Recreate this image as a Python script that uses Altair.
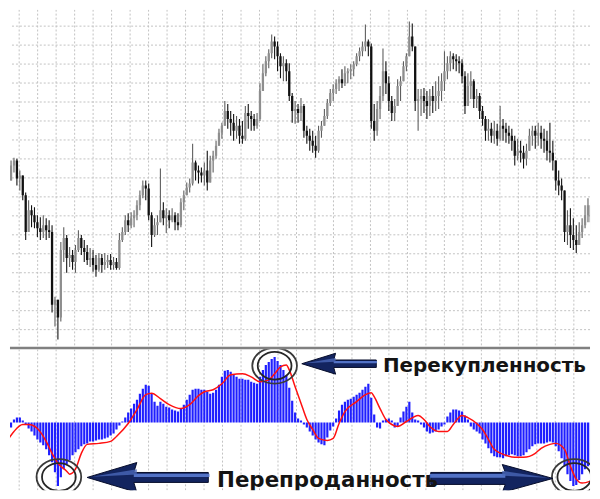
import altair as alt
import pandas as pd

# ---------------- price bars (arbitrary price units) ----------------
HIGH = [178,190,193,192,180,175,158,150,145,143,
        135,133,135,132,130,125,53,50,108,123,
        115,103,100,105,120,115,110,105,102,100,
        95,97,96,97,95,96,93,92,117,123,
        135,137,138,140,150,160,170,170,167,138,
        132,135,182,148,142,140,142,138,137,152,
        160,168,172,207,190,185,183,188,200,195,
        200,210,222,228,250,247,240,237,235,232,
        230,245,247,240,237,238,268,287,295,302,
        317,315,310,298,295,292,288,258,250,247,
        253,247,225,222,220,215,225,230,242,252,
        262,267,272,275,282,285,283,287,290,298,
        304,310,327,312,308,247,250,265,303,290,
        275,255,252,272,275,290,298,330,328,305,
        262,262,263,260,262,265,270,275,278,300,
        295,300,298,297,295,292,280,278,280,272,
        262,258,245,235,232,228,230,227,245,232,
        228,225,222,215,212,210,205,207,222,225,
        225,228,225,222,220,228,210,190,180,172,
        160,140,142,132,125,128,132,145,152,148]
LOW = [153,170,178,165,160,150,110,118,123,122,
       113,110,112,110,112,37,23,10,28,88,
       77,83,80,77,98,95,88,85,83,78,
       73,78,77,80,82,80,80,80,80,108,
       115,118,122,123,130,140,152,150,130,103,
       113,115,128,125,117,122,128,120,120,123,
       140,155,158,165,170,167,168,165,160,168,
       178,192,205,212,225,222,215,210,212,207,
       207,210,222,220,220,222,230,260,275,283,
       293,292,280,273,270,270,250,228,227,228,
       230,213,207,200,198,193,198,213,225,232,
       245,250,257,260,263,265,268,272,275,285,
       290,295,300,295,222,210,215,232,250,257,
       240,230,230,245,250,270,280,295,300,240,
       220,235,238,232,235,238,240,242,250,260,
       272,280,282,280,278,268,237,245,252,243,
       243,232,225,210,210,208,207,205,210,210,
       208,207,200,185,190,188,182,185,200,205,
       202,205,202,198,190,188,180,160,155,150,
       108,105,102,100,97,105,112,122,128,118]
CLOSE = [170,185,190,172,175,155,118,140,135,128,
         122,118,125,120,118,45,50,32,100,112,
         92,95,88,100,112,102,98,90,92,85,
         80,92,85,88,90,85,88,82,110,118,
         130,125,132,135,145,155,165,162,135,115,
         125,128,140,132,135,130,135,128,125,148,
         155,163,167,188,180,178,175,180,168,190,
         195,205,218,225,240,232,228,220,225,215,
         212,238,235,232,225,232,260,278,290,298,
         310,305,295,285,288,280,255,240,242,238,
         245,220,215,210,205,200,220,225,235,248,
         258,262,268,272,268,278,280,282,287,295,
         300,305,310,305,230,220,242,255,280,268,
         250,238,245,265,270,285,295,315,305,250,
         252,255,250,245,255,250,255,260,270,280,
         288,295,292,290,288,275,245,265,270,252,
         255,240,232,220,222,215,220,212,225,222,
         218,215,210,195,200,198,192,200,215,220,
         215,218,212,210,200,198,190,170,165,160,
         118,125,115,110,105,118,125,135,145,128]
FIRST_OPEN = 162

# ---------------- oscillator (histogram + signal line) ----------------
HIST = [-9,-5,3,5,5,2,-2,-6,-9,-13,
        -17,-20,-23,-27,-33,-40,-50,-64,-55,-47,
        -42,-38,-33,-30,-27,-24,-22,-21,-19,-19,
        -18,-17,-17,-16,-15,-13,-11,-7,-3,1,
        5,10,14,19,23,29,34,38,37,29,
        21,17,21,19,16,15,13,12,11,14,
        18,23,28,33,34,34,33,33,31,29,
        30,33,38,46,52,53,51,48,46,44,
        44,43,43,41,40,39,46,53,58,61,
        64,66,62,58,53,47,35,22,10,4,
        2,-2,-5,-9,-13,-17,-20,-22,-23,-15,
        -8,-4,4,12,18,21,23,24,26,28,
        30,33,36,39,25,8,-5,-6,2,3,
        4,2,-5,-4,5,11,16,21,10,3,
        2,-2,-5,-9,-11,-10,-9,-7,-4,-2,
        6,10,13,13,12,11,7,3,-4,-7,
        -9,-11,-17,-21,-26,-31,-34,-35,-35,-36,
        -34,-33,-32,-33,-34,-34,-33,-30,-27,-24,
        -22,-21,-21,-21,-20,-19,-20,-24,-29,-36,
        -44,-52,-59,-64,-63,-58,-52,-47,-44,-41]
SIG_BAR = [0,2,5,7,10,13,15,17,20,21,23,25,27,31,35,37,41,44,47,49,
           52,55,59,62,65,67,70,73,76,80,83,86,89,91,93,95,96,98,100,102,
           104,106,109,111,113,115,119,122,124,125,127,129,131,133,136,140,142,144,147,150,
           152,155,157,160,162,164,166,170,173,176,180,182,185,187,190,192,194,196,199]
SIG_VAL = [-17,-9,-2,-2,-6,-19,-31,-41,-49,-52,-47,-31,-22,-21,-19,-14,-1,13,28,29.5,
           24,18,14,18,27,31,33,39,48,49,46,41,43,49,56,58,53,36,19.5,3,
           -7,-16,-18,-16,-1,11,21,28,30,26,14,3,-2,-4,1,7,3,-4,-9,-9,
           -2,7,5,-1,-7,-17,-27,-33,-35,-35,-31,-26,-22,-21,-27,-44,-57,-61,-59]

# ---------------- grid ----------------
GRID_X = [3.77,10.08,16.39,22.71,29.02,35.33,41.65,47.96,54.27,60.59,66.90,73.21,
          79.53,85.84,92.15,98.47,104.78,111.09,117.41,123.72,130.03,136.35,142.66,
          148.97,155.29,161.60,167.91,174.23,180.54,186.85,193.17,199.48]
GRID_P = [344.5,325.4,306.3,287.2,268.1,249.0,229.9,210.8,191.7,172.6,153.5,
          134.4,115.3,96.2,77.1,58.0,38.9,19.8]

# ---------------- annotations ----------------
LABELS = ["Перекупленность", "Перепроданность"]
LABEL_I = [128.0, 71.33]
LABEL_V = [50.7, -65.3]
LABEL_SIZE = [20, 21.5]
RING_I = [17.33, 91.0, 193.33]
RING_V = [-54.8, 57.2, -54.8]
# arrows: centre bar, centre value, length px, head base (unit), head half, shaft half, direction
ARROWS = [
    (113.0, 59.2, 75, -0.093, 0.28, 0.10, "left"),
    (47.67, -55.3, 122, -0.18, 0.246, 0.082, "left"),
    (165.17, -56.3, 123, 0.171, 0.228, 0.098, "right"),
]

n = len(CLOSE)
opens = [FIRST_OPEN] + CLOSE[:-1]
bars = pd.DataFrame({
    "i": list(range(n)),
    "hi": [max(h, o, c) for h, o, c in zip(HIGH, opens, CLOSE)],
    "lo": [min(l, o, c) for l, o, c in zip(LOW, opens, CLOSE)],
    "op": opens,
    "cl": CLOSE,
    "dir": ["up" if c >= o else "down" for o, c in zip(opens, CLOSE)],
})
hist = pd.DataFrame({"i": list(range(n)), "v": HIST})
sig = pd.DataFrame({"i": SIG_BAR, "v": SIG_VAL})
gx = pd.DataFrame({"g": GRID_X})
gp = pd.DataFrame({"p": GRID_P})

W = 584
xs = alt.Scale(domain=[2.333, 197.0], nice=False, zero=False)
ys_top = alt.Scale(domain=[1, 342], nice=False, zero=False)
ys_bot = alt.Scale(domain=[-68.3, 73.7], nice=False, zero=False)
dash = dict(color="#c2c2c2", strokeDash=[2, 2], strokeWidth=1, clip=True)

# ---------------- top panel ----------------
top_h = alt.Chart(gp).mark_rule(**dash).encode(y=alt.Y("p:Q", scale=ys_top, axis=None))
top_v = alt.Chart(gx).mark_rule(**dash).encode(x=alt.X("g:Q", scale=xs, axis=None))
wick = alt.Chart(bars).mark_rule(strokeWidth=1.1, clip=True).encode(
    x=alt.X("i:Q", scale=xs, axis=None),
    y=alt.Y("lo:Q", scale=ys_top, axis=None),
    y2="hi:Q",
    stroke=alt.Stroke("dir:N", scale=alt.Scale(domain=["up", "down"], range=["#5e5e5e", "#111111"]), legend=None),
)
body = alt.Chart(bars).mark_bar(width=2.3, clip=True).encode(
    x=alt.X("i:Q", scale=xs, axis=None),
    y=alt.Y("op:Q", scale=ys_top, axis=None),
    y2="cl:Q",
    fill=alt.Fill("dir:N", scale=alt.Scale(domain=["up", "down"], range=["#8e8e8e", "#111111"]), legend=None),
)
sep = alt.Chart(pd.DataFrame({"k": [0]})).mark_rule(color="#808080", strokeWidth=2.5).encode(
    x=alt.value(0), x2=alt.value(W), y=alt.value(340.7)
)
top = alt.layer(top_h, top_v, wick, body, sep).properties(width=W, height=341)

# ---------------- bottom panel ----------------
bot_v = alt.Chart(gx).mark_rule(**dash).encode(x=alt.X("g:Q", scale=xs, axis=None))
hbars = alt.Chart(hist).mark_bar(width=2.2, color="#1f1fff", clip=True).encode(
    x=alt.X("i:Q", scale=xs, axis=None),
    y=alt.Y("v:Q", scale=ys_bot, axis=None),
    y2=alt.datum(0),
)
sline = alt.Chart(sig).mark_line(color="#ff1010", strokeWidth=1.5, interpolate="monotone", clip=True).encode(
    x=alt.X("i:Q", scale=xs, axis=None),
    y=alt.Y("v:Q", scale=ys_bot, axis=None),
)

rings_df = pd.DataFrame({"i": RING_I, "v": RING_V})
def ellipse(ry):
    return f"M -1 0 A 1 {ry} 0 1 0 1 0 A 1 {ry} 0 1 0 -1 0 Z"
ring_outer = alt.Chart(rings_df).mark_point(
    shape=ellipse(0.8), size=2025, filled=False, stroke="#3a3a3a", strokeWidth=1.8, opacity=1, clip=True
).encode(x=alt.X("i:Q", scale=xs, axis=None), y=alt.Y("v:Q", scale=ys_bot, axis=None))
ring_inner = alt.Chart(rings_df).mark_point(
    shape=ellipse(0.82), size=1156, filled=False, stroke="#262626", strokeWidth=1.8, opacity=1, clip=True
).encode(x=alt.X("i:Q", scale=xs, axis=None), y=alt.Y("v:Q", scale=ys_bot, axis=None))

arrow_layers = []
for ci, cv, length, hb, hh, sh, d in ARROWS:
    s = -1 if d == "left" else 1
    tip = s * 1.0
    tail = -s * 1.0
    junc = hb + s * 0.05
    path = (f"M {tip} 0 L {hb} {-hh} L {junc} {-sh} L {tail} {-sh} "
            f"L {tail} {sh} L {junc} {sh} L {hb} {hh} Z")
    hl = (f"M {junc} {-sh*0.75} L {tail - s*0.02} {-sh*0.75} L {tail - s*0.02} {-sh*0.1} L {junc} {-sh*0.1} Z")
    hl_head = (f"M {tip - s*0.08} {-0.01} L {hb} {-hh*0.55} L {hb} {-hh*0.2} Z")
    adf = pd.DataFrame({"i": [ci], "v": [cv]})
    enc = dict(x=alt.X("i:Q", scale=xs, axis=None), y=alt.Y("v:Q", scale=ys_bot, axis=None))
    arrow_layers.append(alt.Chart(adf).mark_point(shape=path, size=length ** 2, filled=True, color="#13245f",
                                                  stroke="#070d2a", strokeWidth=1, opacity=1, clip=True).encode(**enc))
    arrow_layers.append(alt.Chart(adf).mark_point(shape=hl, size=length ** 2, filled=True, color="#5a7bd2",
                                                  opacity=0.9, clip=True).encode(**enc))
    arrow_layers.append(alt.Chart(adf).mark_point(shape=hl_head, size=length ** 2, filled=True, color="#4a66b8",
                                                  opacity=0.8, clip=True).encode(**enc))

text_layers = []
for t, ti, tv, fs in zip(LABELS, LABEL_I, LABEL_V, LABEL_SIZE):
    tdf = pd.DataFrame({"i": [ti], "v": [tv], "t": [t]})
    text_layers.append(alt.Chart(tdf).mark_text(
        align="left", baseline="alphabetic", font="DejaVu Sans", fontWeight="bold", fontSize=fs,
        color="#141414", clip=True
    ).encode(x=alt.X("i:Q", scale=xs, axis=None), y=alt.Y("v:Q", scale=ys_bot, axis=None), text="t:N"))

bottom = alt.layer(bot_v, hbars, sline, ring_outer, ring_inner, *arrow_layers, *text_layers).properties(
    width=W, height=142
)

chart = alt.vconcat(top, bottom, spacing=0).properties(padding=0, background="white").configure_view(stroke=None)
chart.save("out.html", embed_options={"renderer": "svg", "actions": False})
